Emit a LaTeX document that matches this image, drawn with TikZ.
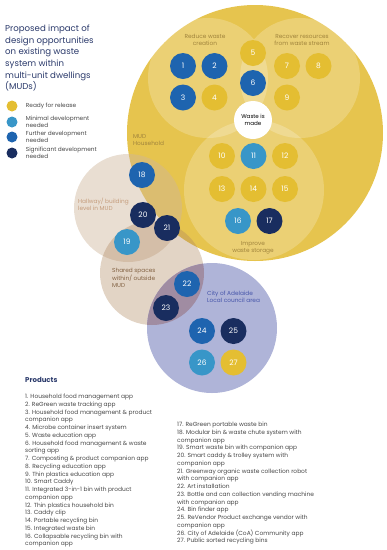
\documentclass[tikz,border=0pt]{standalone}
\usepackage{fontspec}
\setmainfont{Poppins}
\usetikzlibrary{positioning}

\definecolor{mudyellow}{RGB}{230,196,78}
\definecolor{hallbrown}{RGB}{207,182,155}
\definecolor{sharedbrown}{RGB}{175,135,95}
\definecolor{citylilac}{RGB}{175,180,216}
\definecolor{lensmauve}{RGB}{160,140,162}
\definecolor{readycol}{RGB}{228,190,50}
\definecolor{minimalcol}{RGB}{56,150,200}
\definecolor{furthercol}{RGB}{30,100,175}
\definecolor{significantcol}{RGB}{25,45,95}
\definecolor{titleblue}{RGB}{43,58,107}
\definecolor{mudtext}{RGB}{160,132,60}
\definecolor{halltext}{RGB}{196,156,124}
\definecolor{sharedtext}{RGB}{130,98,66}
\definecolor{citytext}{RGB}{70,85,170}
\definecolor{listgrey}{RGB}{70,70,70}

\begin{document}
\begin{tikzpicture}[
				x = 1pt, y = -1pt, % pixel grid, y grows downwards
				node distance = 31.5pt, % distance between product dots
				font = \fontsize{5.8}{7}\selectfont
				]
				
				\tikzstyle{zone}=[circle, inner sep=0pt, draw=none]
				\tikzstyle{subzone}=[zone, fill=white, fill opacity=0.22]
				\tikzstyle{dot}=[circle, inner sep=0pt, minimum size=26pt, text=white,
					font=\fontsize{7.5}{8}\selectfont]
				\tikzstyle{readydot}=[dot, fill=readycol]
				\tikzstyle{minimaldot}=[dot, fill=minimalcol]
				\tikzstyle{furtherdot}=[dot, fill=furthercol]
				\tikzstyle{significantdot}=[dot, fill=significantcol]
				\tikzstyle{keydot}=[circle, inner sep=0pt, minimum size=11pt]
				\tikzstyle{keytext}=[align=left, inner sep=0pt, text=listgrey]
				\tikzstyle{zonelabel}=[align=center, inner sep=0pt, font=\fontsize{5.8}{6.8}\selectfont]
				\tikzstyle{listtext}=[anchor=north west, align=left, inner sep=0pt, text=listgrey,
					font=\fontsize{5.9}{7.75}\selectfont]
				
				\useasboundingbox (0,0) rectangle (387,550);
				
				% zones
				\node[zone, fill=mudyellow, minimum size=256pt] (mud) at (255,133) {};
				\node[subzone, minimum size=120pt] (reduce) at (208,78) {};
				\node[subzone, minimum size=120pt] (recover) at (300,78) {};
				\node[subzone, minimum size=140pt] (storage) at (254,190) {};
				\node[zone, fill=white, minimum size=38pt, align=center,
					font=\fontsize{5.6}{6.6}\selectfont] (made) at (253,120) {Waste is\\made};
				\node[zone, fill=hallbrown, fill opacity=0.45, minimum size=108pt] (hall) at (128,208) {};
				\node[zone, fill=sharedbrown, fill opacity=0.36, minimum size=104pt] (shared) at (152,273) {};
				\node[zone, fill=citylilac, minimum size=130pt] (city) at (212,328) {};
				\begin{scope}
					\clip (shared.center) circle (52);
					\fill[lensmauve] (city.center) circle (65);
				\end{scope}
				
				% zone labels
				\node[zonelabel, text=mudtext] (reducelbl) at (205,40) {Reduce waste\\creation};
				\node[zonelabel, text=mudtext] (recoverlbl) at (302,40) {Recover resources\\from waste stream};
				\node[zonelabel, text=mudtext] (storagelbl) at (253,248) {Improve\\waste storage};
				\node[zonelabel, align=left, anchor=west, text=mudtext] (mudlbl) at (133,140) {MUD\\Household};
				\node[zonelabel, align=left, anchor=west, text=halltext] (halllbl) at (78,204) {Hallway/ building\\level in MUD};
				\node[zonelabel, align=left, anchor=west, text=sharedtext] (sharedlbl) at (112,278)
					{Shared spaces\\within/ outside\\MUD};
				\node[zonelabel, align=left, anchor=west, text=citytext] (citylbl) at (207,297) {City of Adelaide\\Local council area};
				
				% product dots
				\node[furtherdot] (p1) at (183,66) {1};
				\node[furtherdot] (p2) [right of=p1] {2};
				\node[furtherdot] (p3) [below of=p1] {3};
				\node[readydot] (p4) [right of=p3] {4};
				\node[readydot] (p5) at (253,53) {5};
				\node[furtherdot] (p6) [below of=p5, node distance=30pt] {6};
				\node[readydot] (p7) at (287,66) {7};
				\node[readydot] (p8) [right of=p7] {8};
				\node[readydot] (p9) [below of=p7] {9};
				\node[readydot] (p10) at (222,156) {10};
				\node[minimaldot] (p11) [right of=p10] {11};
				\node[readydot] (p12) [right of=p11] {12};
				\node[readydot] (p13) [below of=p10, node distance=33pt] {13};
				\node[readydot] (p14) [right of=p13] {14};
				\node[readydot] (p15) [right of=p14] {15};
				\node[minimaldot] (p16) at (238,221) {16};
				\node[significantdot] (p17) [right of=p16] {17};
				\node[furtherdot] (p18) at (142,175) {18};
				\node[significantdot] (p20) at (143,215) {20};
				\node[significantdot] (p21) at (167,228) {21};
				\node[minimaldot] (p19) at (127,242) {19};
				\node[furtherdot] (p22) at (187,284) {22};
				\node[significantdot] (p23) at (166,308) {23};
				\node[furtherdot] (p24) at (202,331) {24};
				\node[significantdot] (p25) [right of=p24] {25};
				\node[minimaldot] (p26) [below of=p24] {26};
				\node[readydot] (p27) [right of=p26] {27};
				
				% title and key
				\node[anchor=north west, inner sep=0pt, align=left, text=titleblue,
					font=\fontsize{8.6}{11.6}\selectfont] (title) at (5,25)
					{Proposed impact of\\design opportunities\\on existing waste\\system within\\multi-unit dwellings\\(MUDs)};
				\node[keydot, fill=readycol] (key1) at (12,106) {};
				\node[keydot, fill=minimalcol] (key2) at (12,122) {};
				\node[keydot, fill=furthercol] (key3) at (12,137) {};
				\node[keydot, fill=significantcol] (key4) at (12,153) {};
				\node[keytext, right=8pt of key1] (key1txt) {Ready for release};
				\node[keytext, right=8pt of key2] (key2txt) {Minimal development\\needed};
				\node[keytext, right=8pt of key3] (key3txt) {Further development\\needed};
				\node[keytext, right=8pt of key4] (key4txt) {Significant development\\needed};
				
				% product list
				\node[anchor=west, inner sep=0pt, text=titleblue,
					font=\bfseries\fontsize{7}{8}\selectfont] (products) at (25,380) {Products};
				\node[listtext] (listleft) at (25,394) {1. Household food management app\\
					2. ReGreen waste tracking app\\
					3. Household food management \& product\\
					companion app\\
					4. Microbe container insert system\\
					5. Waste education app\\
					6. Household food management \& waste\\
					sorting app\\
					7. Composting \& product companion app\\
					8. Recycling education app\\
					9. Thin plastics education app\\
					10. Smart Caddy\\
					11. Integrated 3-in-1 bin with product\\
					companion app\\
					12. Thin plastics household bin\\
					13. Caddy clip\\
					14. Portable recycling bin\\
					15. Integrated waste bin\\
					16. Collapsable recycling bin with\\
					companion app};
				\node[listtext] (listright) at (177,422) {17. ReGreen portable waste bin\\
					18. Modular bin \& waste chute system with\\
					companion app\\
					19. Smart waste bin with companion app\\
					20. Smart caddy \& trolley system with\\
					companion app\\
					21. Greenway organic waste collection robot\\
					with companion app\\
					22. Art installation\\
					23. Bottle and can collection vending machine\\
					with companion app\\
					24. Bin finder app\\
					25. ReVendor Product exchange vendor with\\
					companion app\\
					26. City of Adelaide (CoA) Community app\\
					27. Public sorted recycling bins};
			\end{tikzpicture}
\end{document}
